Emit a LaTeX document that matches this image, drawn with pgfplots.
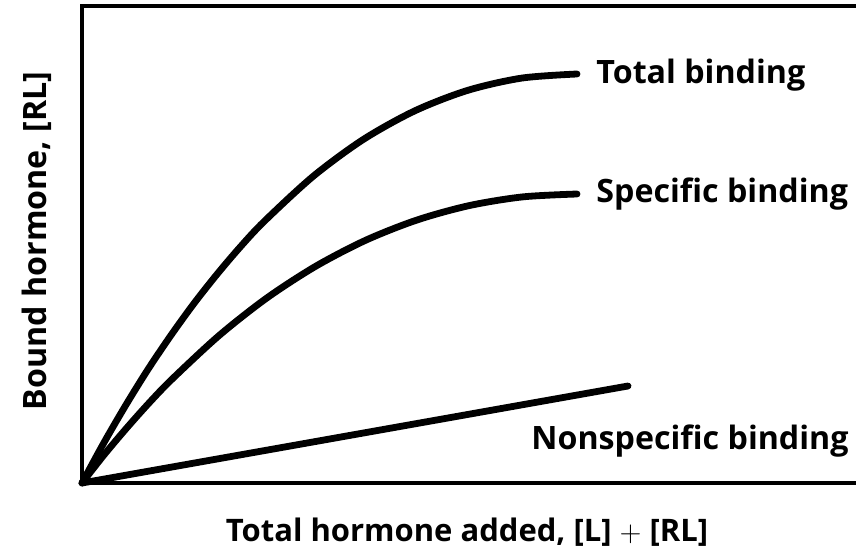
\documentclass[border=0pt]{standalone}
\usepackage{fontspec}
\setmainfont{Open Sans}
\usepackage{pgfplots}
\pgfplotsset{compat=1.18}
\begin{document}
\begin{tikzpicture}
\begin{axis}[
  at={(0,0)}, anchor=origin,
  scale only axis,
  width=387pt, height=238.5pt,
  xmin=0, xmax=774, ymin=0, ymax=477,
  axis line style={draw=none},
  ticks=none,
  clip=false,
]
% Total binding
\addplot[black, line width=3.4pt, line cap=round, line join=round, smooth] coordinates {
(0,0) (21.7,39.9) (43.7,77.7) (65.9,113.5) (88.6,147.2) (111.5,178.9) (134.9,208.6)
(158.4,236.2) (182.4,261.8) (231.3,306.8) (281.4,343.6) (332.9,372.2) (385.6,392.6)
(439.7,404.9) (495,409)};
% Specific binding
\addplot[black, line width=3.4pt, line cap=round, line join=round, smooth] coordinates {
(0,0) (22.1,28.2) (44.6,54.9) (67.2,80.2) (90.2,104.0) (137.0,147.4) (184.8,185.0)
(233.8,216.8) (283.8,242.8) (335.0,263.0) (387.2,277.4) (440.6,286.1) (495,289)};
% Nonspecific binding
\addplot[black, line width=3.4pt, line cap=round] coordinates {(0,0) (546,97)};
\draw[line width=2pt] (rel axis cs:1.01,1) -- (rel axis cs:0,1) -- (rel axis cs:0,0) -- (rel axis cs:1.01,0);
\end{axis}
\pgfresetboundingbox
\path[use as bounding box] (-41pt,-34.5pt) rectangle (387pt,241.5pt);
\node[anchor=base west, inner sep=0pt, font=\fontsize{16.1}{19}\selectfont\bfseries] at (257pt,199.5pt) {Total binding};
\node[anchor=base west, inner sep=0pt, font=\fontsize{16.1}{19}\selectfont\bfseries] at (257pt,140pt) {Specific binding};
\node[anchor=base west, inner sep=0pt, font=\fontsize{16.1}{19}\selectfont\bfseries] at (224.5pt,17pt) {Nonspecific binding};
\node[anchor=base, inner sep=0pt, font=\fontsize{15.5}{18}\selectfont\bfseries] at (192.5pt,-29pt) {Total hormone added, [L] $+$ [RL]};
\node[anchor=base, rotate=90, inner sep=0pt, font=\fontsize{16.1}{19}\selectfont\bfseries] at (-17.5pt,121pt) {Bound hormone, [RL]};
\end{tikzpicture}
\end{document}
